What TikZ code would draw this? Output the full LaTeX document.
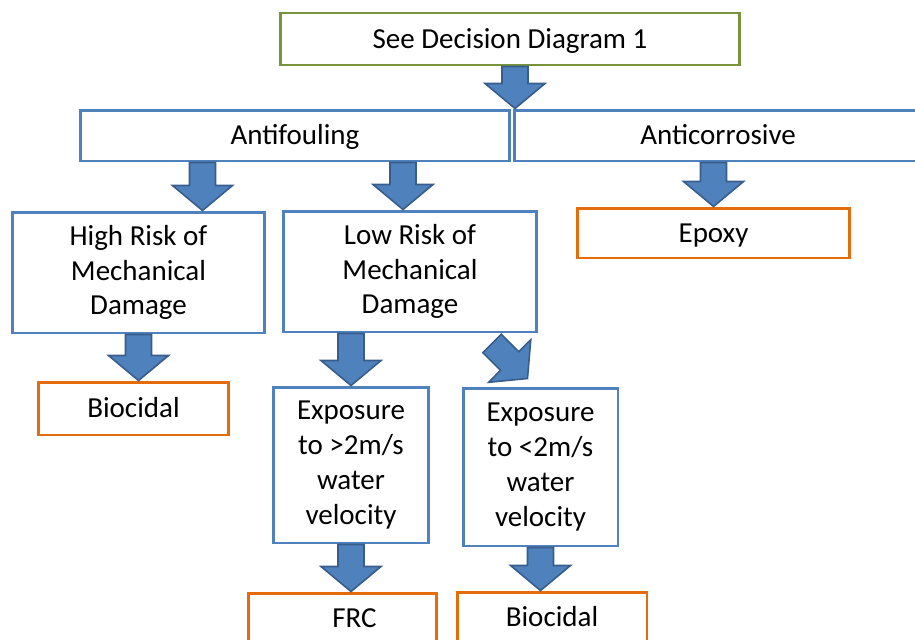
\documentclass[tikz,border=0pt]{standalone}
\usepackage{fontspec}
\setmainfont{Carlito}
\usetikzlibrary{calc}

\definecolor{boxblue}{RGB}{79,129,189}
\definecolor{arrowblue}{RGB}{79,129,189}
\definecolor{arrowedge}{RGB}{56,93,138}
\definecolor{boxgreen}{RGB}{119,147,60}
\definecolor{boxorange}{RGB}{228,108,10}

\tikzset{
 stepbox/.style={draw=boxblue,line width=1.7pt,fill=white,align=center,inner sep=0pt},
 onerow/.style={text height=10.6pt,text depth=0pt},
 startbox/.style={stepbox,onerow,draw=boxgreen},
 endbox/.style={stepbox,onerow,draw=boxorange},
 blockarrow/.style={draw=arrowedge,fill=arrowblue,line width=0.9pt,line join=miter,
  to path={-- ($(\tikztostart)!0.26cm!90:(\tikztotarget)$)
   -- ($(\tikztotarget)!0.564cm!-27.47:(\tikztostart)$)
   -- ($(\tikztotarget)!0.781cm!-50.19:(\tikztostart)$)
   -- (\tikztotarget)
   -- ($(\tikztotarget)!0.781cm!50.19:(\tikztostart)$)
   -- ($(\tikztotarget)!0.564cm!27.47:(\tikztostart)$)
   -- ($(\tikztostart)!0.26cm!-90:(\tikztotarget)$)
   -- cycle}}
}

\begin{document}
\begin{tikzpicture}[x=0.02cm,y=-0.02cm,font=\fontsize{16.5}{19.8}\selectfont]
 \useasboundingbox (0,0) rectangle (915,639);
 \clip (0,0) rectangle (915,639);

 \node[startbox,minimum width=9.2cm,minimum height=1.04cm] (see) at (510,39) {See Decision Diagram 1};
 \node[stepbox,onerow,minimum width=8.6cm,minimum height=1.02cm] (af) at (295,135.5) {Antifouling};
 \node[stepbox,onerow,minimum width=8.16cm,minimum height=1.02cm] (ac) at (718,135.5) {Anticorrosive};
 \node[stepbox,minimum width=5.06cm,minimum height=2.42cm] (high) at (138.5,272.5) {High Risk of\\Mechanical\\Damage};
 \node[stepbox,minimum width=5.08cm,minimum height=2.42cm] (low) at (410,271.5) {Low Risk of\\Mechanical\\Damage};
 \node[endbox,minimum width=5.46cm,minimum height=1cm] (epoxy) at (713.5,233) {Epoxy};
 \node[endbox,minimum width=3.82cm,minimum height=1.06cm] (bio1) at (133.5,408.5) {Biocidal};
 \node[stepbox,minimum width=3.12cm,minimum height=3.12cm] (fast) at (351,465) {Exposure\\to >2m/s\\water\\velocity};
 \node[stepbox,minimum width=3.1cm,minimum height=3.16cm] (slow) at (540.5,467) {Exposure\\to <2m/s\\water\\velocity};
 \node[endbox,minimum width=3.78cm,minimum height=1cm] (frc) at (342.5,618) {\hspace*{0.48cm}FRC};
 \node[endbox,minimum width=3.8cm,minimum height=1.02cm] (bio2) at (552,617.5) {Biocidal};

 \coordinate (see-out) at ($(see.south)+(5,0)$);
 \coordinate (split) at (see-out |- af.north);
 \coordinate (high-in) at ($(high.north)!0.5!(high.north east)$);
 \coordinate (af-out1) at (high-in |- af.south);
 \coordinate (low-in) at ($(low.north)+(-7,0)$);
 \coordinate (af-out2) at (low-in |- af.south);
 \coordinate (ac-out) at (epoxy.north |- ac.south);
 \coordinate (bio1-in) at (high.south |- bio1.north);
 \coordinate (low-out1) at (fast.north |- low.south);
 \coordinate (low-out2) at ($(low.south)+(82,10)$);
 \coordinate (slow-in) at ($(slow.north)+(-13,-8)$);
 \coordinate (frc-in) at (fast.south |- frc.north);
 \coordinate (bio2-in) at (slow.south |- bio2.north);

 \draw[blockarrow] (see-out) to (split);
 \draw[blockarrow] (af-out1) to (high-in);
 \draw[blockarrow] (af-out2) to (low-in);
 \draw[blockarrow] (ac-out) to (epoxy.north);
 \draw[blockarrow] (high.south) to (bio1-in);
 \draw[blockarrow] (low-out1) to (fast.north);
 \draw[blockarrow] (low-out2) to (slow-in);
 \draw[blockarrow] (fast.south) to (frc-in);
 \draw[blockarrow] (slow.south) to (bio2-in);
\end{tikzpicture}
\end{document}
